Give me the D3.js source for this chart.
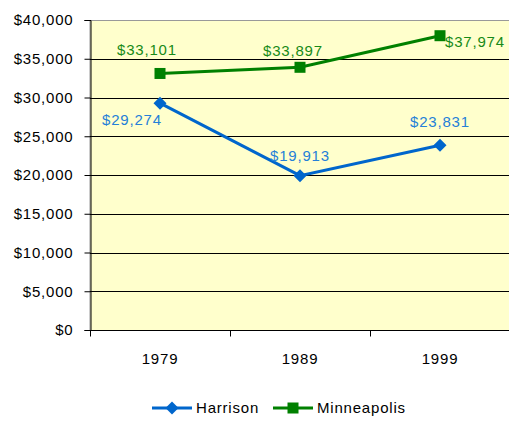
<!DOCTYPE html>
<html>
<head>
<meta charset="utf-8">
<script src="https://cdn.jsdelivr.net/npm/d3@7"></script>
<style>
  body { margin: 0; background: #fff; }
  text { font-family: "Liberation Sans", Arial, sans-serif; letter-spacing: 0.8px; }
</style>
</head>
<body>
<div id="chart"></div>
<script>
const years = ["1979", "1989", "1999"];
const harrison = [29274, 19913, 23831];
const minneapolis = [33101, 33897, 37974];
const yTicks = [0, 5000, 10000, 15000, 20000, 25000, 30000, 35000, 40000];

const width = 509, height = 421;
const margin = { top: 20, right: -1, bottom: 91, left: 90 };
const fs = 15;

const svg = d3.select("#chart").append("svg")
  .attr("width", width)
  .attr("height", height);

const x = d3.scaleBand().domain(years).range([margin.left, width - margin.right]);
const y = d3.scaleLinear().domain([0, 40000]).range([height - margin.bottom, margin.top]);

// plot background
svg.append("rect")
  .attr("x", margin.left).attr("y", margin.top + 0.5)
  .attr("width", x.range()[1] - margin.left)
  .attr("height", y(0) - margin.top)
  .attr("fill", "#ffffcc")
  .attr("stroke", "#999").attr("stroke-width", 1);

// gridlines
svg.append("g").selectAll("line")
  .data(yTicks.filter(d => d > 0 && d < 40000))
  .enter().append("line")
  .attr("x1", margin.left).attr("x2", x.range()[1])
  .attr("y1", d => Math.round(y(d)) + 0.5).attr("y2", d => Math.round(y(d)) + 0.5)
  .attr("stroke", "#000");

// y axis
const yAxis = svg.append("g")
  .attr("transform", `translate(${margin.left + 0.5},0)`)
  .call(d3.axisLeft(y).tickValues(yTicks).tickSize(6).tickPadding(11)
    .tickFormat(d => "$" + d3.format(",")(d)));
yAxis.select(".domain").attr("stroke", "#000");
yAxis.selectAll(".tick line").attr("stroke", "#000");
yAxis.selectAll(".tick text").attr("font-size", fs).attr("fill", "#000")
  .attr("font-family", "Liberation Sans, Arial, sans-serif");

// x axis with ticks between categories
const xAxisG = svg.append("g").attr("transform", `translate(0,${y(0) + 0.5})`);
xAxisG.append("line")
  .attr("x1", margin.left).attr("x2", x.range()[1])
  .attr("stroke", "#000");
xAxisG.selectAll(".sep")
  .data(years.map(d => x(d)).concat([x.range()[1]]))
  .enter().append("line")
  .attr("x1", d => d + 0.5).attr("x2", d => d + 0.5)
  .attr("y1", 0).attr("y2", 6).attr("stroke", "#000");
xAxisG.selectAll(".lbl")
  .data(years).enter().append("text")
  .attr("x", d => x(d) + x.bandwidth() / 2)
  .attr("y", 28)
  .attr("dy", "0.35em")
  .attr("text-anchor", "middle")
  .attr("font-size", fs)
  .text(d => d);

const series = [
  { name: "Harrison", values: harrison, color: "#0066cc", label: "#2580d8", marker: "diamond",
    offsets: [[-28, 17], [0, -20], [0, -24]] },
  { name: "Minneapolis", values: minneapolis, color: "#008000", label: "#178a17", marker: "square",
    offsets: [[-13, -24], [-7, -17], [5, 6]] }
];

const cx = i => x(years[i]) + x.bandwidth() / 2;
const line = d3.line().x((d, i) => cx(i)).y(d => y(d));

function drawMarker(g, type, px, py, color) {
  if (type === "diamond") {
    g.append("path")
      .attr("d", `M${px},${py - 6.5}L${px + 6.5},${py}L${px},${py + 6.5}L${px - 6.5},${py}Z`)
      .attr("fill", color);
  } else {
    g.append("rect")
      .attr("x", px - 5.5).attr("y", py - 5.5)
      .attr("width", 11).attr("height", 11)
      .attr("fill", color);
  }
}

series.forEach(s => {
  const g = svg.append("g");
  g.append("path")
    .datum(s.values)
    .attr("d", line)
    .attr("fill", "none")
    .attr("stroke", s.color)
    .attr("stroke-width", 3);
  s.values.forEach((v, i) => drawMarker(g, s.marker, cx(i), y(v), s.color));
  g.selectAll(".val")
    .data(s.values).enter().append("text")
    .attr("x", (d, i) => cx(i) + s.offsets[i][0])
    .attr("y", (d, i) => y(d) + s.offsets[i][1])
    .attr("text-anchor", (d, i) => s.name === "Minneapolis" && i === 2 ? "start" : "middle")
    .attr("dy", "0.35em")
    .attr("font-size", fs)
    .attr("fill", s.label)
    .text(d => "$" + d3.format(",")(d));
});

// legend
const legend = svg.append("g").attr("transform", "translate(0,408)");
const legendX = [152, 273];
series.forEach((s, i) => {
  const lx = legendX[i];
  legend.append("line")
    .attr("x1", lx).attr("x2", lx + 40)
    .attr("stroke", s.color).attr("stroke-width", 3);
  drawMarker(legend, s.marker, lx + 20, 0, s.color);
  legend.append("text")
    .attr("x", lx + 44).attr("y", 0).attr("dy", "0.35em")
    .attr("font-size", fs)
    .text(s.name);
});
</script>
</body>
</html>
